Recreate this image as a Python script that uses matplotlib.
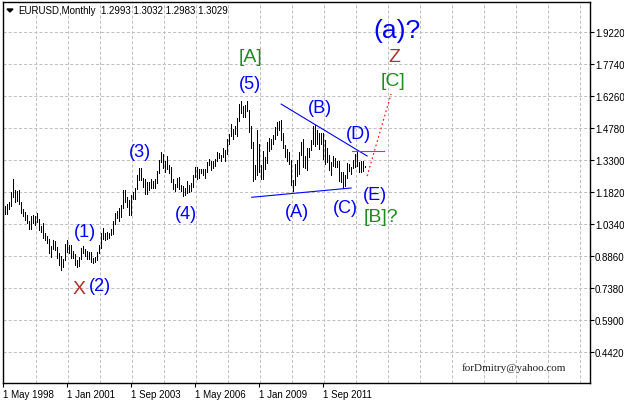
import numpy as np
import pandas as pd
import matplotlib
matplotlib.use('Agg')
import matplotlib.pyplot as plt

plt.rcParams['font.family'] = ['Liberation Sans', 'DejaVu Sans']
plt.rcParams['lines.scale_dashes'] = False

# EURUSD monthly bars, May 1998 .. Jun 2013
start_month = '1998-05-01'
highs = [
    1.115, 1.120, 1.128, 1.136, 1.185, 1.244, 1.194, 1.190,  # 1998 May-Dec
    1.1905, 1.1375, 1.1035, 1.0895, 1.0760, 1.0475, 1.0725, 1.0790, 1.0740, 1.0885, 1.0600, 1.0280,  # 1999
    1.0415, 0.9950, 0.9785, 0.9650, 0.9345, 0.9595, 0.9575, 0.9280, 0.9020, 0.8875, 0.8740, 0.9425,  # 2000
    0.9595, 0.9405, 0.9380, 0.9095, 0.8965, 0.8695, 0.8820, 0.9230, 0.9335, 0.9220, 0.9100, 0.9050,  # 2001
    0.9060, 0.8785, 0.8840, 0.9055, 0.9400, 0.9955, 1.0190, 0.9930, 0.9965, 0.9930, 1.0140, 1.0500,  # 2002
    1.0870, 1.0940, 1.1080, 1.1230, 1.1930, 1.1930, 1.1610, 1.1450, 1.1700, 1.1835, 1.2020, 1.2640,  # 2003
    1.2930, 1.2930, 1.2495, 1.2425, 1.2275, 1.2300, 1.2440, 1.2340, 1.2440, 1.2815, 1.3300, 1.3665,  # 2004
    1.3580, 1.3290, 1.3480, 1.3085, 1.2990, 1.2440, 1.2225, 1.2485, 1.2530, 1.2160, 1.2125, 1.2040,  # 2005
    1.2325, 1.2155, 1.2265, 1.2625, 1.2980, 1.2980, 1.2890, 1.2915, 1.2910, 1.2875, 1.3240, 1.3365,  # 2006
    1.3250, 1.3245, 1.3370, 1.3680, 1.3615, 1.3530, 1.3850, 1.3790, 1.4280, 1.4525, 1.4965, 1.4750,  # 2007
    1.4900, 1.5275, 1.5905, 1.6020, 1.5800, 1.5845, 1.6038, 1.5625, 1.4865, 1.4135, 1.3080, 1.4720,  # 2008
    1.4065, 1.3060, 1.3740, 1.3435, 1.4165, 1.4340, 1.4305, 1.4450, 1.4845, 1.5060, 1.5140, 1.5145,  # 2009
    1.4580, 1.3990, 1.3815, 1.3690, 1.3320, 1.2400, 1.3130, 1.3335, 1.3670, 1.4160, 1.4280, 1.3500,  # 2010
    1.3860, 1.3860, 1.4250, 1.4880, 1.4940, 1.4700, 1.4540, 1.4550, 1.4550, 1.4250, 1.3875, 1.3550,  # 2011
    1.3235, 1.3485, 1.3385, 1.3285, 1.3285, 1.2745, 1.2745, 1.2640, 1.3170, 1.3140, 1.3010, 1.3310,  # 2012
    1.3600, 1.3711, 1.3205, 1.3245, 1.3245, 1.3032,  # 2013 Jan-Jun
]
lows = [
    1.085, 1.082, 1.082, 1.105, 1.120, 1.159, 1.136, 1.143,  # 1998 May-Dec
    1.1298, 1.0885, 1.0705, 1.0550, 1.0395, 1.0135, 1.0100, 1.0380, 1.0300, 1.0465, 1.0080, 0.9995,  # 1999
    0.9700, 0.9620, 0.9465, 0.9000, 0.8845, 0.9220, 0.9170, 0.8800, 0.8440, 0.8228, 0.8355, 0.8670,  # 2000
    0.9075, 0.9035, 0.8760, 0.8790, 0.8440, 0.8350, 0.8400, 0.8735, 0.8995, 0.8895, 0.8740, 0.8740,  # 2001
    0.8590, 0.8565, 0.8610, 0.8710, 0.8995, 0.9225, 0.9680, 0.9610, 0.9680, 0.9690, 0.9850, 0.9900,  # 2002
    1.0335, 1.0620, 1.0500, 1.0690, 1.1110, 1.1390, 1.1145, 1.0760, 1.0765, 1.1490, 1.1500, 1.1950,  # 2003
    1.2410, 1.2380, 1.2075, 1.1760, 1.1755, 1.1940, 1.2000, 1.2010, 1.2010, 1.2250, 1.2725, 1.3235,  # 2004
    1.2955, 1.2770, 1.2880, 1.2720, 1.2300, 1.1995, 1.1870, 1.2065, 1.1995, 1.1875, 1.1640, 1.1710,  # 2005
    1.1800, 1.1825, 1.1860, 1.2065, 1.2535, 1.2455, 1.2480, 1.2690, 1.2630, 1.2480, 1.2740, 1.3085,  # 2006
    1.2865, 1.2925, 1.3050, 1.3285, 1.3405, 1.3265, 1.3450, 1.3260, 1.3585, 1.4070, 1.4440, 1.4300,  # 2007
    1.4530, 1.4440, 1.5115, 1.5510, 1.5285, 1.5300, 1.5560, 1.4610, 1.3880, 1.2330, 1.2425, 1.2600,  # 2008
    1.2760, 1.2455, 1.2455, 1.2885, 1.3180, 1.3745, 1.3835, 1.4045, 1.4270, 1.4480, 1.4690, 1.4220,  # 2009
    1.3860, 1.3430, 1.3270, 1.3110, 1.2140, 1.1876, 1.2150, 1.2590, 1.2650, 1.3540, 1.2970, 1.2965,  # 2010
    1.2870, 1.3440, 1.3760, 1.4075, 1.3970, 1.4075, 1.3835, 1.4050, 1.3360, 1.3145, 1.3210, 1.2860,  # 2011
    1.2625, 1.3030, 1.3000, 1.3000, 1.2330, 1.2290, 1.2042, 1.2130, 1.2500, 1.2800, 1.2660, 1.2925,  # 2012
    1.3000, 1.3035, 1.2750, 1.2745, 1.2795, 1.2983,  # 2013 Jan-Jun
]
last_ohlc = [1.2993, 1.3032, 1.2983, 1.3029]

x_tick_labels = ['1 May 1998', '1 Jan 2001', '1 Sep 2003', '1 May 2006', '1 Jan 2009', '1 Sep 2011']
y_ticks = [1.9220, 1.7740, 1.6260, 1.4780, 1.3300, 1.1820, 1.0340, 0.8860, 0.7380, 0.5900, 0.4420]

# wave marks: text, bar index, price, colour, size
blue, green, red = '#0000ff', '#1e8c1e', '#b0302a'
wave_labels = [
    ('(1)', 41, 1.003, blue, 13), ('(2)', 48.5, 0.753, blue, 13), ('X', 38, 0.735, red, 14),
    ('(3)', 68.5, 1.373, blue, 13), ('(4)', 91.5, 1.082, blue, 13),
    ('[A]', 123.5, 1.812, green, 14), ('(5)', 123.5, 1.683, blue, 13),
    ('(A)', 147, 1.091, blue, 13), ('(B)', 158.5, 1.572, blue, 13),
    ('(C)', 171, 1.110, blue, 13), ('(D)', 177.5, 1.456, blue, 13),
    ('(E)', 186, 1.170, blue, 13), ('[B]?', 189, 1.072, green, 14),
    ('(a)?', 197, 1.933, blue, 19), ('Z', 195.5, 1.808, red, 14), ('[C]', 195, 1.701, green, 14),
]
# triangle borders, D level and projected path
upper_x, upper_y = [139, 182], [1.590, 1.350]
lower_x, lower_y = [124.25, 174], [1.159, 1.202]
d_level_x, d_level_y = [174.5, 190.5], [1.373, 1.373]
path_x, path_y = [182, 194], [1.257, 1.637]

months = pd.date_range(start_month, periods=len(highs), freq='MS')
idx = np.arange(len(highs))

fig = plt.figure(figsize=(6.24, 4.02), dpi=100)
ax = fig.add_axes([3.3 / 624, 18 / 402, (590 - 3.3) / 624, (384 - 3.3) / 402])
ax.set_xlim(0.15, 293.5)
ax.set_ylim(0.300, 2.0608)

# grid
for g in np.arange(16, 294, 16):
    ax.axvline(g + 0.35, color='#c0c0c0', lw=0.72, dashes=(2.2, 1.5), zorder=0)
for v in y_ticks:
    ax.axhline(v, color='#c0c0c0', lw=0.72, dashes=(2.2, 1.5), zorder=0)

# bars
ax.vlines(idx, lows, highs, color='black', lw=0.6, antialiased=False, zorder=2)

# lines
ax.plot(upper_x, upper_y, color=blue, lw=0.8, zorder=3)
ax.plot(lower_x, lower_y, color=blue, lw=0.8, zorder=3)
ax.plot(d_level_x, d_level_y, color='#ff00ff', lw=0.8, zorder=3)
ax.plot(path_x, path_y, color='#ff0000', lw=0.8, linestyle=(0, (1.2, 2.0)), zorder=3)

for txt, xi, yi, col, sz in wave_labels:
    ax.text(xi, yi, txt, color=col, fontsize=sz, ha='center', va='center', zorder=4)

# axes and ticks
tick_pos = [months.get_loc(pd.Timestamp(t)) for t in x_tick_labels]
ax.set_xticks(tick_pos)
ax.set_xticklabels(x_tick_labels, ha='left', fontsize=7)
ax.yaxis.tick_right()
ax.set_yticks(y_ticks)
ax.set_yticklabels(['%.4f' % v for v in y_ticks], fontsize=7)
ax.tick_params(axis='x', direction='out', length=3, width=0.8, pad=1)
ax.tick_params(axis='y', direction='out', length=3, width=0.8, pad=0.5)
for s in ax.spines.values():
    s.set_linewidth(1.0)

# header and signature
fig.add_artist(plt.Polygon([[7, 392], [13, 392], [10, 389]], closed=True, color='black',
                           transform=None))
fig.text(18 / 624, 1 - 11 / 402, 'EURUSD,Monthly', fontsize=7, va='center', ha='left')
fig.text(101 / 624, 1 - 11 / 402, ' '.join('%.4f' % v for v in last_ohlc),
         fontsize=7, va='center', ha='left')
fig.text(514 / 624, 1 - 368 / 402, 'forDmitry@yahoo.com', fontsize=8, color='#202020',
         family='Liberation Serif', va='center', ha='center')

fig.savefig('out.png', dpi=100)
